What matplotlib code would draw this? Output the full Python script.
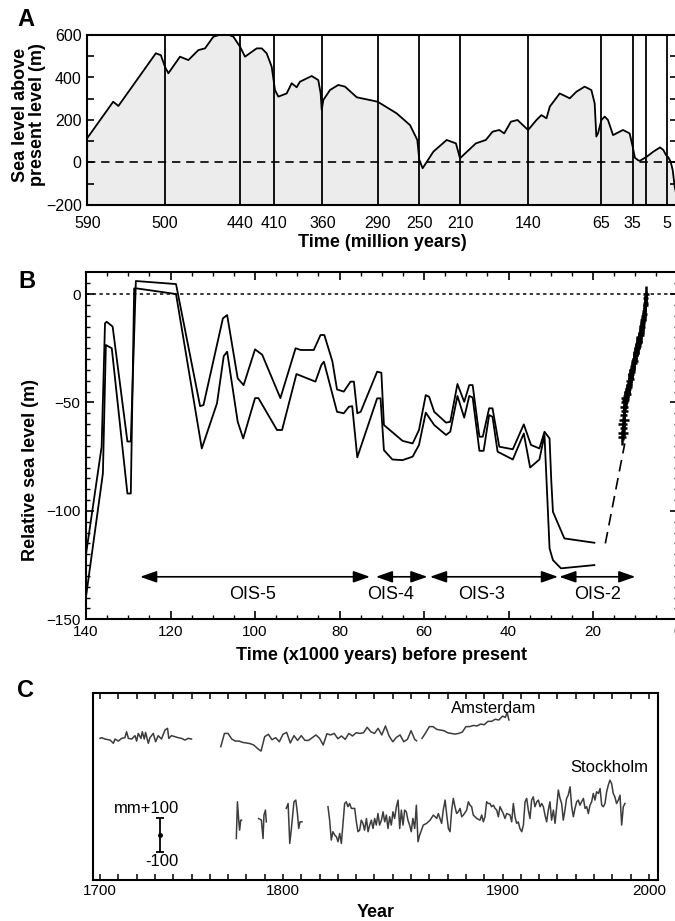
import numpy as np
import matplotlib
matplotlib.use("Agg")
import matplotlib.pyplot as plt

plt.rcParams['font.family'] = ['Liberation Sans', 'DejaVu Sans']
plt.rcParams['axes.unicode_minus'] = True

# ---------------- Panel A data ----------------
a_boundary_ages = [590, 500, 440, 410, 360, 290, 250, 210, 140, 65, 35, 5]
a_boundary_labels = ['590', '500', '440', '410', '360', '290', '250', '210', '140', '65', '35', '5']
a_extra_boundary = [23]
a_age = [590, 560, 554, 510.6, 504.8, 500, 497.3, 488, 481.3, 473.3, 468, 461.3, 452, 445.3,
         440, 435.6, 425.4, 421, 416.7, 412.3, 409.3, 405.8, 397.1, 391.9, 386.7, 383.3, 371.1,
         364.2, 361.7, 360.6, 358.7, 350.3, 339.8, 331.3, 316.5, 290, 271.7, 258.9, 251.9, 250,
         246.7, 236.2, 223.1, 214, 210, 193.7, 183.4, 176.5, 169.6, 164.5, 157.6, 150.8, 139.9,
         131.3, 126.2, 121, 117.6, 107.4, 97.1, 90.3, 81.8, 74.9, 71.5, 69.8, 68.1, 64.6, 61.5,
         58.4, 53.6, 44.2, 37.9, 35, 33, 30, 28.6, 22.7, 16.8, 10.9, 8, 5.6, 4.2, 3.1, 2.1, 1.1, 0]
a_level = [115, 286, 266, 514, 505, 450, 420, 498, 482, 529, 537, 592, 608, 592,
           545, 498, 537, 537, 514, 451, 341, 310, 325, 373, 354, 380, 407,
           388, 325, 247, 294, 341, 365, 357, 307, 286, 231, 176, 106, 12,
           -27, 51, 106, 90, 20, 90, 106, 145, 153, 137, 192, 200, 153,
           200, 223, 208, 263, 325, 302, 333, 357, 341, 278, 122, 137, 200, 216,
           200, 129, 153, 137, 74, 22, 10, 8, 27, 51, 71, 59, 35, 24, 4, -35, -114, -165]
a_yticks = [-200, 0, 200, 400, 600]

# ---------------- Panel B data ----------------
b_upper_age = [140, 136.3, 135.5, 135.1, 133.7, 130.2, 129.4, 128.2, 118.7, 113, 112.2, 107.6,
               106.6, 104.1, 102.7, 100, 98.3, 94, 90.4, 89.2, 86.1, 84.5, 83.6, 81.7, 80.6, 79,
               77.4, 76.6, 75.8, 75, 71.1, 70.1, 69.5, 65.1, 62.7, 61.2, 59.6, 58.8, 57.6, 54.8,
               53.8, 52.1, 50.5, 49.3, 48.5, 46.9, 46.1, 44.6, 43.8, 42.2, 39, 36.4, 34.7, 32.7,
               31.5, 30.3, 29.9, 29.5, 26.8, 19.7]
b_upper_level = [-120, -70.4, -13.5, -12.8, -15, -68, -68, 6, 4.6, -51.7, -51.2, -11.2,
                 -9.7, -38.9, -42, -25.5, -28, -48, -25, -25.8, -25.8, -18.9, -18.9, -31, -44, -45,
                 -40.4, -40.4, -55, -54.3, -35.8, -36.3, -60.4, -67.7, -68.9, -62.7, -46.6, -47.4, -54.3, -59.3,
                 -58.9, -41.5, -49.7, -42, -42, -65.8, -65.8, -52.7, -52.7, -70.4, -71.6, -60.1, -69.6, -71.2,
                 -63.5, -66.6, -85.8, -100.4, -112.7, -114.7]
b_lower_age = [140, 136, 135.3, 133.9, 130.2, 129.4, 128.6, 128, 118.7, 112.6, 109, 107.4, 106.6,
               104.1, 102.8, 100, 99.2, 94.8, 93.6, 90.2, 85.7, 84.3, 83.7, 80.6, 79, 77.8, 77,
               75.8, 71.1, 70.3, 69.5, 67.5, 65.1, 62.7, 61.2, 59.6, 57.6, 54.8, 53.8, 52.1, 50.5,
               49.3, 48.5, 46.9, 45.9, 44.6, 43.8, 42.6, 39, 36.4, 34.9, 32.7, 31.5, 30.3, 29.5,
               27.6, 19.7]
b_lower_level = [-139.6, -82.7, -23.5, -25, -92, -92, 2.6, 2.6, 0, -71.2, -50.4, -28.6, -26.6,
                 -58.9, -66.6, -48, -48, -62.7, -62.7, -36.9, -40.4, -32.7, -31.2, -54.3, -55, -52, -51.7,
                 -75.3, -48.1, -48.1, -72, -76.3, -76.6, -75, -69.6, -54.7, -60.4, -65, -63.5, -47, -57,
                 -47, -47.7, -72.3, -72.3, -55.8, -56.6, -72.7, -76.3, -64.3, -80, -76.3, -65, -117.3, -122.7,
                 -126.5, -125]
b_gap_age = [17.1, 12.5]
b_gap_level = [-115, -68.9]
coral_age = [13.1, 12.9, 12.8, 13.0, 12.7, 12.8, 12.6, 12.7, 12.5, 12.4, 12.3, 12.2, 12.0, 11.9,
             11.8, 11.6, 11.5, 11.4, 11.2, 11.1, 11.0, 10.8, 10.7, 10.6, 10.4, 10.3, 10.2, 10.0,
             9.9, 9.8, 9.6, 9.5, 9.4, 9.2, 9.1, 9.0, 8.8, 8.7, 8.6, 8.4, 8.3, 8.2, 8.0, 7.9,
             7.8, 7.7, 7.6, 7.5, 7.4]
coral_level = [-66, -64, -62, -60, -58, -56, -54, -52, -50, -48, -49, -47, -45, -46,
               -44, -42, -43, -40, -38, -39, -37, -35, -36, -33, -32, -30, -31, -28,
               -27, -26, -25, -23, -24, -21, -22, -20, -18, -19, -16, -14, -15, -12, -10, -8,
               -9, -5, -4, -2, 0]
coral_age_err = [1.0, 1.1, 0.9, 1.0, 1.1, 0.8, 0.9, 1.0, 0.8, 0.9, 0.8, 0.8, 0.7, 0.8,
                 0.7, 0.6, 0.8, 0.7, 0.6, 0.7, 0.8, 0.6, 0.7, 0.6, 0.7, 0.6, 0.8, 0.6,
                 0.7, 0.6, 0.7, 0.6, 0.7, 0.6, 0.7, 0.6, 0.6, 0.7, 0.6, 0.6, 0.7, 0.6, 0.6, 0.5,
                 0.6, 0.6, 0.5, 0.6, 0.7]
coral_level_err = 3.5
ois_labels = ['OIS-5', 'OIS-4', 'OIS-3', 'OIS-2']
ois_start = [127.2, 71.4, 58.6, 28.0]
ois_end = [72.8, 59.2, 28.3, 10.0]
ois_label_age = [100.5, 67.9, 46.5, 18.9]

# ---------------- Panel C data ----------------
ams_year_1 = [1700, 1700.9, 1702.7, 1705.5, 1707.3, 1708.2, 1710, 1711.8, 1713.6, 1714.5,
              1715.5, 1717.3, 1719.1, 1720, 1720.9, 1722.4, 1723.1, 1724.2, 1724.9, 1726.4,
              1727.3, 1729.1, 1730.4, 1731.8, 1733.6, 1735.5, 1736.9, 1737.6, 1739.1, 1740.9,
              1742.7, 1744.5, 1746.4, 1748.2, 1750]
ams_mm_1 = [0, 4, -4, -10, -29, -4, -16, 0, 4, 39, 0, -4, 16, -16, 29, 0, 39, -4, 35, -29,
            4, 29, -20, 16, -4, 49, 59, 0, 16, 10, 4, 0, -10, 0, -4]
ams_year_2 = [1766, 1768, 1770, 1772, 1774, 1776, 1778, 1780, 1782, 1784, 1786, 1788, 1790,
              1792, 1794, 1796, 1798, 1800, 1802, 1804, 1806, 1808, 1810, 1812, 1814, 1816,
              1818, 1820, 1822, 1824, 1826, 1828, 1830, 1832, 1834, 1836, 1838, 1840, 1842,
              1844, 1846, 1848, 1850, 1852, 1854, 1856, 1858, 1860, 1862, 1864, 1866, 1868,
              1870, 1872, 1873]
ams_mm_2 = [-49, 29, 29, -4, -16, -16, -24, -27, -31, -39, -59, -75, 10,
            24, -8, 4, -20, 24, 35, -27, 16, -12, 16, -12, -12, 4,
            20, 0, -39, 27, 20, 29, -2, 14, -6, 29, 14, 33, 29,
            33, 65, 39, 29, 59, 20, 73, 14, -20, 6, 20, -20, -6,
            45, -6, -14]
ams_year_3 = [1876, 1878, 1880, 1882, 1884, 1886, 1888, 1890, 1892, 1894, 1896, 1898, 1900,
              1902, 1904, 1906, 1908, 1910, 1912, 1914, 1916, 1918, 1920, 1921.5, 1922.5, 1923.5]
ams_mm_3 = [0, 33, 69, 69, 53, 49, 45, 33, 29, 25, 29, 37, 69,
            69, 76, 73, 84, 80, 100, 100, 112, 108, 131, 123, 151, 108]

stk_year_1 = [1774.5, 1775.1, 1775.8, 1776.3, 1776.9, 1777.3]
stk_mm_1 = [-69, 147, 39, -20, 39, 39]
stk_year_2 = [1786.7, 1788.2, 1789.1, 1789.6, 1790.4, 1790.9]
stk_mm_2 = [49, 39, -69, 69, 98, 29]
stk_year_3 = [1801.8, 1802.8, 1803.7, 1804.6, 1806.0, 1807.0, 1807.9, 1808.6, 1809.3, 1810.4]
stk_mm_3 = [108, 137, -98, -10, 147, 157, 78, -10, 29, 29]
stk_year_4 = [1824.6, 1825.5, 1826.4, 1827.3, 1828.3, 1829.2, 1830.1, 1831.0, 1831.9, 1832.8,
              1833.7, 1834.6, 1835.5, 1836.4, 1837.4, 1839.2, 1840.1, 1841.0, 1841.9, 1842.8,
              1843.7, 1844.6, 1845.6, 1846.5, 1847.4, 1848.3, 1849.2, 1850.1, 1851.0, 1851.9,
              1852.8, 1853.8, 1854.7, 1855.6, 1856.5, 1857.4, 1858.3, 1859.2, 1860.1, 1861.0,
              1862.0, 1862.9, 1863.8, 1864.7, 1865.6, 1866.5, 1867.4, 1868.3, 1869.2, 1870.1,
              1871.0, 1872.0, 1872.9, 1873.8, 1874.7,
              1876.7, 1878.5, 1880.4, 1882.2, 1884.0, 1884.9, 1885.8, 1886.7, 1887.6, 1888.6,
              1889.5, 1890.4, 1891.3, 1892.2, 1893.1, 1894.0, 1894.9, 1895.8, 1896.8, 1897.7,
              1898.6, 1900.4, 1901.3, 1902.2, 1903.1, 1904.0, 1905.9, 1907.7, 1908.6, 1909.5,
              1910.4, 1911.3, 1912.2, 1913.1, 1914.0, 1915.0, 1915.9, 1916.8, 1917.7, 1918.6,
              1919.5, 1920.4, 1921.3, 1922.3, 1924.1, 1925.0, 1925.9, 1926.8, 1927.7, 1928.6,
              1929.5, 1930.5, 1931.4, 1932.3, 1933.2, 1934.1, 1935.0, 1935.9, 1936.8, 1937.7,
              1938.7, 1939.6, 1940.5, 1941.4, 1942.3, 1943.2, 1944.1, 1945.0, 1945.9, 1946.8,
              1947.8, 1948.7, 1949.6, 1950.5, 1951.4, 1952.3, 1953.2, 1954.1, 1955.0, 1955.9,
              1956.9, 1957.8, 1958.7, 1959.6, 1960.5, 1961.4, 1962.3, 1963.2, 1964.2, 1965.1,
              1966.0, 1966.9, 1967.8, 1968.7, 1969.6, 1970.5, 1971.4, 1972.4, 1973.3, 1974.2,
              1975.1, 1976.0, 1976.9, 1977.8, 1978.7, 1979.6, 1980.5, 1981.4, 1982.3, 1983.3,
              1984.2, 1985.1, 1986.0, 1986.9]
stk_mm_4 = [118, 39, -78, -29, -49, -59, -88, -39, -98, 20,
            137, 147, 118, 137, 108, 108, 29, -29, -20, 39,
            20, -20, 49, -29, 10, 39, -10, 49, 10, 78,
            10, 39, 88, 29, 69, -10, 59, 10, 88, 49,
            118, 157, -10, 98, 10, 98, 88, 39, 10, -29,
            49, -10, 127, -88, -49,
            10, 20, 39, 69, 49, 78, 49, 20, 98, 157,
            69, -10, -29, 98, 167, 118, 78, 88, 108, 59,
            69, 98, 147, 127, 118, 69, 49, 39, 69, 29,
            59, 147, 137, 137, 118, 127, 108, 98, 59, 118,
            98, 78, 49, 78, 69, 29, 137, 59, 20, 29,
            -10, -29, 10, 147, 167, 98, 49, 157, 176, 118,
            147, 157, 118, 137, 118, 69, 29, 98, 147, 39,
            98, 20, 118, 216, 167, 137, 39, 98, 167, 186,
            235, 118, 59, 108, 147, 157, 127, 147, 167, 108,
            118, 78, 127, 147, 196, 157, 206, 196, 225, 127,
            118, 137, 206, 245, 274, 255, 196, 176, 137, 157,
            186, 10, 118, 137]
c_label_years = [1700, 1800, 1920, 2000]
c_label_text = ['1700', '1800', '1900', '2000']

# ---------------- Figure layout ----------------
W, H = 675, 921
fig = plt.figure(figsize=(W / 100, H / 100), dpi=100)


def ax_px(l, t, r, b):
    return fig.add_axes([l / W, 1 - b / H, (r - l) / W, (b - t) / H])


FONT_TICK = 11.5
FONT_LAB = 13

# ---------------- Panel A ----------------
axA = ax_px(87.3, 35, 677, 205)
scale_ages = np.array([700, 590, 500, 440, 410, 360, 290, 250, 210, 140, 65, 35, 5, 0, -100], float)
scale_pos = np.array([-40, 87.3, 165, 240, 274.3, 322.3, 377.7, 419.3, 460, 528, 601, 632.7, 666.7, 677, 883], float)


def fwdA(t):
    return -np.interp(-np.asarray(t, float), -scale_ages, scale_pos)


def invA(q):
    return -np.interp(-np.asarray(q, float), scale_pos, -scale_ages)


axA.set_xscale('function', functions=(fwdA, invA))
axA.set_xlim(590, 0)
axA.set_ylim(-200, 600)
axA.fill_between(a_age, a_level, -200, color='#ececec', lw=0, zorder=1)
axA.plot(a_age, a_level, color='k', lw=1.3, zorder=3)
for t in a_boundary_ages[1:] + a_extra_boundary:
    axA.axvline(t, color='k', lw=1.3, zorder=4)
axA.axhline(0, color='k', lw=1.2, ls=(0, (5, 3.5)), zorder=2)
axA.set_xticks(a_boundary_ages)
axA.set_xticklabels(a_boundary_labels)
axA.set_xticks([], minor=True)
axA.set_yticks(a_yticks)
axA.set_yticklabels(['\u2212200', '0', '200', '400', '600'])
axA.set_yticks([-100, 100, 300, 500], minor=True)
axA.tick_params(axis='x', length=0, pad=8, labelsize=FONT_TICK)
axA.tick_params(axis='y', which='both', direction='in', length=5, width=1.2, right=True,
                labelsize=FONT_TICK, pad=4)
for s in axA.spines.values():
    s.set_linewidth(1.5)
axA.set_xlabel('Time (million years)', fontsize=FONT_LAB, fontweight='bold', labelpad=2)
fig.text(29 / W, 1 - 115 / H, 'Sea level above\npresent level (m)', rotation=90,
         ha='center', va='center', fontsize=FONT_LAB, fontweight='bold', linespacing=1.05)
fig.text(17 / W, 1 - 20 / H, 'A', fontsize=17, fontweight='bold', va='center', ha='left')

# ---------------- Panel B ----------------
axB = ax_px(86, 271.7, 677.6, 619.3)
axB.set_xlim(140, 0)
axB.set_ylim(-150, 10.3)
axB.plot(b_upper_age, b_upper_level, color='k', lw=1.3)
axB.plot(b_lower_age, b_lower_level, color='k', lw=1.3)
axB.plot(b_gap_age, b_gap_level, color='k', lw=1.2, ls=(0, (7, 4)))
axB.errorbar(coral_age, coral_level, xerr=coral_age_err, yerr=coral_level_err, fmt='none',
             ecolor='k', elinewidth=1.8, capsize=0)
axB.axhline(0, color='k', lw=1.1, ls=(0, (2.2, 2.2)))
for s, e, lab, la in zip(ois_start, ois_end, ois_labels, ois_label_age):
    axB.annotate('', xy=(e, -130.4), xytext=(s, -130.4),
                 arrowprops=dict(arrowstyle='<|-|>,head_length=1.0,head_width=0.35',
                                 color='k', lw=1.2, mutation_scale=10,
                                 shrinkA=0, shrinkB=0))
    axB.text(la, -138.5, lab, ha='center', va='center', fontsize=13)
axB.set_xticks(np.arange(0, 141, 20))
axB.set_xticks(np.arange(0, 141, 5), minor=True)
axB.set_yticks([-150, -100, -50, 0])
axB.set_yticklabels(['\u2212150', '\u2212100', '\u221250', '0'])
axB.set_yticks(np.arange(-150, 10, 5), minor=True)
axB.tick_params(which='major', direction='in', length=6, width=1.2, top=True, right=True,
                labelsize=FONT_TICK - 0.5, pad=4)
axB.tick_params(which='minor', direction='in', length=3, width=1.0, top=True, right=True)
for s in axB.spines.values():
    s.set_linewidth(1.5)
axB.set_xlabel('Time (x1000 years) before present', fontsize=FONT_LAB, fontweight='bold', labelpad=6)
fig.text(31 / W, 1 - 470 / H, 'Relative sea level (m)', rotation=90, ha='center', va='center',
         fontsize=FONT_LAB, fontweight='bold')
fig.text(18 / W, 1 - 281 / H, 'B', fontsize=17, fontweight='bold', va='center', ha='left')

# ---------------- Panel C ----------------
axC = ax_px(92.7, 693.3, 657.7, 880)
axC.set_xlim(1696, 2004.8)
axC.set_ylim(0, 1098)
AMS_OFF, STK_OFF = 833, 313
gray = '#3c3c3c'
for yrs, mm in [(ams_year_1, ams_mm_1), (ams_year_2, ams_mm_2), (ams_year_3, ams_mm_3)]:
    axC.plot(yrs, np.array(mm) + AMS_OFF, color=gray, lw=1.1)
for yrs, mm in [(stk_year_1, stk_mm_1), (stk_year_2, stk_mm_2), (stk_year_3, stk_mm_3),
                (stk_year_4, stk_mm_4)]:
    axC.plot(yrs, np.array(mm) + STK_OFF, color=gray, lw=1.1)
axC.errorbar([1732.8], [266], yerr=[100], fmt='o', ms=2.5, color='k', capsize=3,
             elinewidth=1.3, capthick=1.3)
axC.text(1743, 423, 'mm+100', ha='right', va='center', fontsize=12)
axC.text(1743, 106, '-100', ha='right', va='center', fontsize=12)
axC.text(1915.3, 1011, 'Amsterdam', ha='center', va='center', fontsize=12)
axC.text(1978.1, 664, 'Stockholm', ha='center', va='center', fontsize=12)
axC.set_xticks(c_label_years)
axC.set_xticklabels(c_label_text)
axC.set_xticks(np.arange(1700, 2001, 10), minor=True)
axC.set_yticks([])
axC.tick_params(which='both', axis='x', direction='in', length=4, width=1.1, top=True,
                labelsize=FONT_TICK - 0.5, pad=3)
for s in axC.spines.values():
    s.set_linewidth(1.5)
axC.set_xlabel('Year', fontsize=FONT_LAB, fontweight='bold', labelpad=4)
fig.text(17 / W, 1 - 690 / H, 'C', fontsize=17, fontweight='bold', va='center', ha='left')

fig.savefig('out.png', dpi=100)
